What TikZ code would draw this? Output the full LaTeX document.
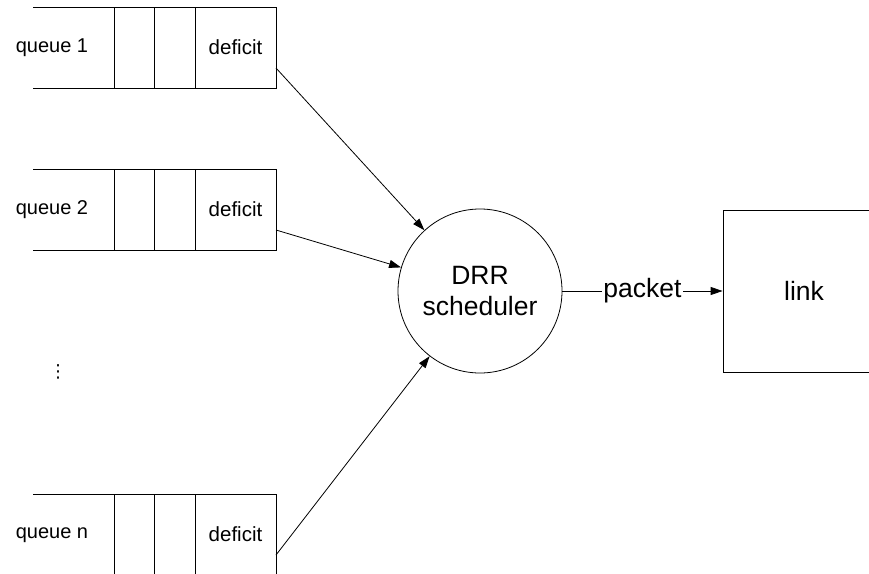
\documentclass[tikz,border=0pt]{standalone}
\usepackage{fontspec}
\setmainfont{Liberation Sans}
\newfontfamily\dvsans{DejaVu Sans}
\usetikzlibrary{arrows.meta}
\begin{document}
\begin{tikzpicture}[x=1pt,y=-1pt, line width=0.8pt,
  cell/.style={minimum width=81pt, minimum height=81pt, inner sep=0pt, outer sep=0pt, font=\fontsize{20.5}{24}\selectfont},
  small/.style={inner sep=0pt, font=\fontsize{20}{24}\selectfont},
  big/.style={font=\fontsize{26.5}{31}\selectfont},
  arr/.style={-{Triangle[length=12pt,width=8pt]}}]
\useasboundingbox (0,0) rectangle (869,573);
\clip (0,0) rectangle (869,573);
% queues
\foreach \T/\lab/\nm in {7/queue 1/q1, 169/queue 2/q2, 494/queue n/qn}{
  \node[cell] (\nm d) at (235.5,\T+40.5) {deficit};
  \node[small] (\nm l) at (52,\T+41) {\lab};
  \draw (33,\T) -- (\nm d.north east) -- (\nm d.south east) -- (33,\T+81);
  \draw (114,\T) -- (114,\T+81);
  \draw (154,\T) -- (154,\T+81);
  \draw (\nm d.north west) -- (\nm d.south west);
  \coordinate (\nm o) at (276,\T+61);
}
\node[inner sep=0pt, font=\dvsans\fontsize{18}{20}\selectfont] (dots) at (58,372) {⋮};
% scheduler
\node[draw, circle, minimum size=164pt, inner sep=0pt, big, align=center] (sched) at (480,291) {DRR\\scheduler};
\node[draw, minimum width=162pt, minimum height=162pt, big] (link) at (804,291) {link};
\draw[arr] (q1o) -- (sched);
\draw[arr] (q2o) -- (sched);
\draw[arr] (qno) -- (sched);
\draw[arr] (sched) -- node[fill=white, inner sep=1pt, big] (pk) {packet} (link);
\end{tikzpicture}
\end{document}
